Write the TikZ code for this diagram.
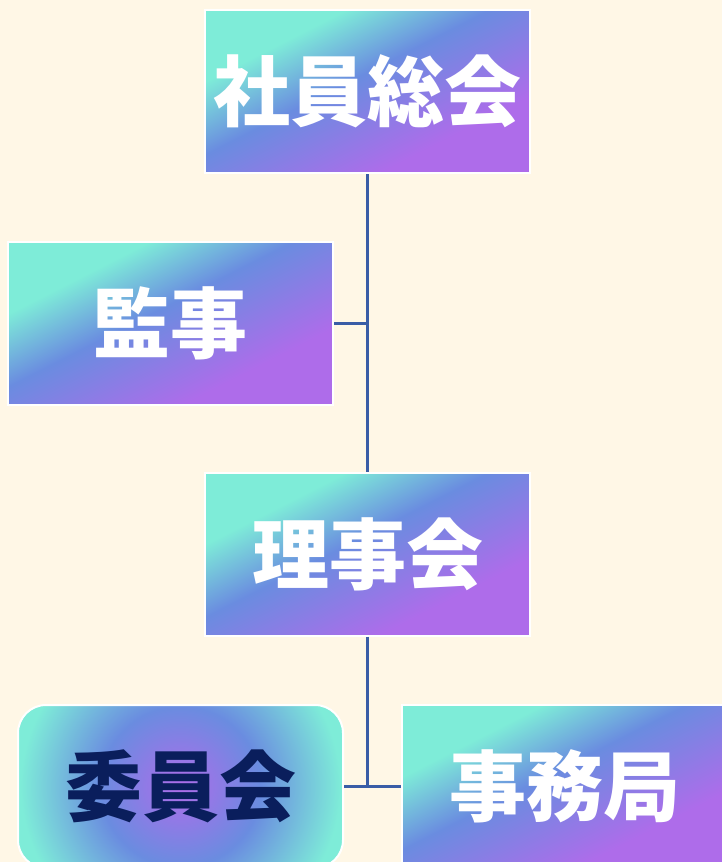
\documentclass[tikz,border=0pt]{standalone}
\usepackage{fontspec}
\newfontfamily\cjk{Noto Sans CJK JP}
\definecolor{bgcream}{RGB}{255,247,230}
\definecolor{gaqua}{RGB}{126,236,216}
\definecolor{gblue}{RGB}{106,140,224}
\definecolor{gpurple}{RGB}{174,108,234}
\definecolor{linkblue}{RGB}{58,93,166}
\definecolor{navytext}{RGB}{10,30,92}
\pgfdeclareverticalshading{boxgrad}{100bp}{color(0bp)=(gpurple); color(32bp)=(gpurple); color(54bp)=(gblue); color(69bp)=(gaqua); color(100bp)=(gaqua)}
\pgfdeclareradialshading{roundgrad}{\pgfpoint{0bp}{0bp}}{color(0bp)=(gpurple); color(10bp)=(gblue); color(20bp)=(gaqua); color(25bp)=(gaqua); color(50bp)=(gaqua)}
\tikzset{
  orgbox/.style={draw=white, line width=2pt, shading=boxgrad, shading angle=27,
    minimum width=325pt, minimum height=163pt, inner sep=0pt,
    font=\cjk\bfseries\fontsize{77}{82}\selectfont, text=white},
  roundbox/.style={draw=white, line width=2pt, rounded corners=28pt,
    minimum width=325pt, minimum height=163pt, inner sep=0pt,
    path picture={\shade[shading=roundgrad] (path picture bounding box.center) circle (200pt);},
    font=\cjk\bfseries\fontsize{77}{82}\selectfont, text=navytext},
  link/.style={draw=linkblue, line width=2.2pt}
}
\begin{document}
\begin{tikzpicture}[x=1pt,y=-1pt]
\fill[bgcream] (0,0) rectangle (722,862);
\useasboundingbox (0,0) rectangle (722,862);
\clip (0,0) rectangle (722,862);
\node[orgbox] (top) at (367.5,91.5) {社員総会};
\node[orgbox] (kansa) at (170.5,323.5) {監事};
\node[orgbox] (riji) at (367.5,554) {理事会};
\node[roundbox] (iin) at (180.5,786.5) {委員会};
\node[orgbox] (jimu) at (564.5,786.5) {事務局};
\draw[link] (top.south) -- (riji.north);
\draw[link] (kansa.east) -- (kansa.east -| top.south);
\draw[link] (riji.south) -- (riji.south |- iin.east);
\draw[link] (iin.east) -- (jimu.west);
\end{tikzpicture}
\end{document}
